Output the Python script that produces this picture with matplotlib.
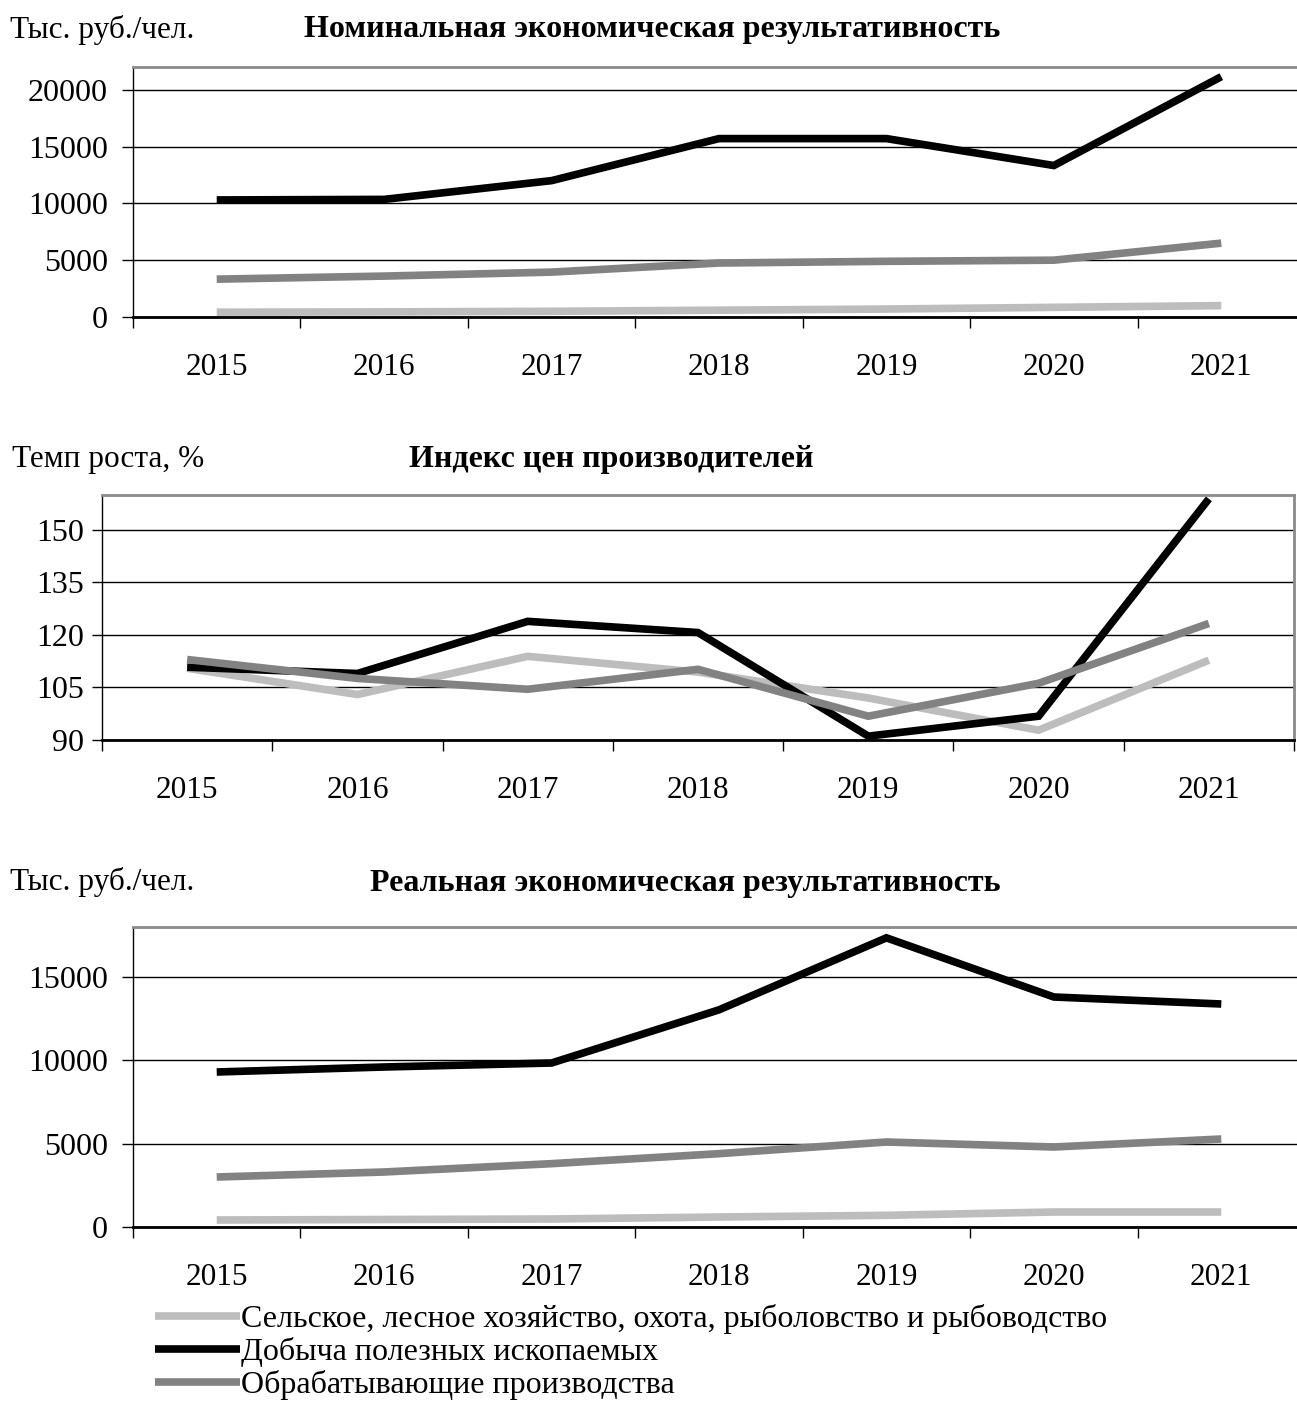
import matplotlib
matplotlib.use("Agg")
import matplotlib.pyplot as plt
from matplotlib.lines import Line2D

plt.rcParams['font.family'] = ['Liberation Serif', 'DejaVu Serif']

# data
years = ['2015', '2016', '2017', '2018', '2019', '2020', '2021']
series_names = ['Сельское, лесное хозяйство, охота, рыболовство и рыбоводство',
                'Добыча полезных ископаемых',
                'Обрабатывающие производства']

nom_agri = [420, 450, 500, 600, 700, 850, 1000]
nom_mining = [10300, 10350, 12000, 15700, 15700, 13330, 21150]
nom_manuf = [3330, 3600, 3950, 4750, 4900, 5000, 6500]

ppi_agri = [110.5, 103.0, 113.9, 109.4, 102.0, 92.8, 112.8]
ppi_mining = [110.8, 109.0, 123.9, 120.7, 91.1, 96.8, 158.9]
ppi_manuf = [113.0, 107.6, 104.5, 110.2, 96.8, 106.2, 123.3]

real_agri = [420, 450, 480, 600, 700, 900, 900]
real_mining = [9300, 9600, 9840, 13030, 17350, 13800, 13380]
real_manuf = [3000, 3300, 3800, 4400, 5100, 4800, 5280]

colors = ['#bdbdbd', '#000000', '#828282']
W, H = 1297, 1402


def px_axes(left, right, top, bottom):
    return fig.add_axes([left / W, 1 - bottom / H, (right - left) / W, (bottom - top) / H])


def draw(ax, data, ylim, yticks, tlen, pad):
    x = range(len(years))
    for vals, c in zip(data, colors):
        ax.plot(x, vals, color=c, lw=5.5, solid_capstyle='butt', solid_joinstyle='miter')
    ax.set_xlim(-0.5, len(years) - 0.5)
    ax.set_ylim(*ylim)
    ax.set_yticks(yticks)
    ax.set_yticklabels([str(t) for t in yticks])
    ax.set_xticks([i - 0.5 for i in range(len(years) + 1)])
    ax.set_xticklabels([])
    ax.set_xticks(list(x), minor=True)
    ax.set_xticklabels(years, minor=True)
    ax.tick_params(axis='x', which='major', direction='out', length=8, width=1)
    ax.tick_params(axis='x', which='minor', length=0, pad=26, labelsize=22.5)
    ax.tick_params(axis='y', direction='out', length=tlen, width=1, pad=pad, labelsize=23)
    ax.grid(axis='y', color='black', lw=1)
    ax.set_axisbelow(True)
    ax.spines['top'].set_color('#8a8a8a')
    ax.spines['top'].set_linewidth(2)
    ax.spines['right'].set_color('#8a8a8a')
    ax.spines['right'].set_linewidth(2)
    ax.spines['left'].set_linewidth(1)
    ax.spines['bottom'].set_linewidth(2)


fig = plt.figure(figsize=(W / 100, H / 100), dpi=100)

ax1 = px_axes(133, 1305, 67, 317)
draw(ax1, [nom_agri, nom_mining, nom_manuf], (0, 22000), [0, 5000, 10000, 15000, 20000], 8, 10)

ax2 = px_axes(102, 1294, 495, 740)
draw(ax2, [ppi_agri, ppi_mining, ppi_manuf], (90, 160), [90, 105, 120, 135, 150], 7, 6)

ax3 = px_axes(133, 1305, 927, 1227)
draw(ax3, [real_agri, real_mining, real_manuf], (0, 18000), [0, 5000, 10000, 15000], 8, 10)

fs_head = 22.5
fs_title = 23
fig.text(10 / W, 1 - 30 / H, 'Тыс. руб./чел.', fontsize=fs_head, va='center', ha='left')
fig.text(652 / W, 1 - 30 / H, 'Номинальная экономическая результативность',
         fontsize=fs_title, fontweight='bold', va='center', ha='center')
fig.text(12 / W, 1 - 460 / H, 'Темп роста, %', fontsize=fs_head, va='center', ha='left')
fig.text(611 / W, 1 - 460 / H, 'Индекс цен производителей',
         fontsize=fs_title, fontweight='bold', va='center', ha='center')
fig.text(10 / W, 1 - 882 / H, 'Тыс. руб./чел.', fontsize=fs_head, va='center', ha='left')
fig.text(685 / W, 1 - 884 / H, 'Реальная экономическая результативность',
         fontsize=fs_title, fontweight='bold', va='center', ha='center')

handles = [Line2D([], [], color=c, lw=5.5, solid_capstyle='butt') for c in colors]
fig.legend(handles, series_names, loc='upper left', bbox_to_anchor=(155 / W, 1 - 1304 / H),
           frameon=False, fontsize=23, handlelength=2.65, handletextpad=0.05,
           labelspacing=0.1, borderpad=0, borderaxespad=0)

fig.savefig('out.png', dpi=100)
